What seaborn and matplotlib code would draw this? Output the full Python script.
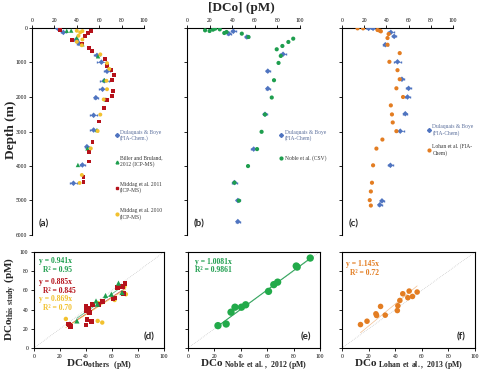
import numpy as np
import seaborn as sns
import matplotlib.pyplot as plt
from matplotlib.lines import Line2D

sns.set_style("white")
plt.rcParams['font.family'] = ['Liberation Serif', 'DejaVu Serif']
plt.rcParams['mathtext.fontset'] = 'custom'
plt.rcParams['mathtext.rm'] = 'Liberation Serif'
plt.rcParams['mathtext.bf'] = 'Liberation Serif:bold'

BLUE = '#4f74c0'
GREEN = '#1e9e4e'
RED = '#b5121b'
YELLOW = '#f2c12e'
ORANGE = '#e37d22'

# ---- depth profiles, panel (a)
a_blue_co = [23, 28, 39, 42, 58, 62, 67, 64.5, 63, 57, 55, 55, 49, 45, 37]
a_blue_depth = [10, 127, 353, 450, 794, 990, 1255, 1530, 1775, 2020, 2530, 2957, 3440, 3970, 4500]
a_blue_err = [2, 2, 2, 2, 3, 4, 3, 4, 3, 2, 3, 3, 2, 2, 3]
a_biller_co = [31, 35, 40, 45, 59, 64.5, 66, 58, 49.5, 41]
a_biller_depth = [80, 75, 280, 470, 820, 1510, 2070, 2957, 3490, 3970]
a_m11_co = [25, 50, 52.5, 47.5, 36, 44.5, 50.5, 53.5, 65.5, 66.6, 71, 73, 71.5, 72,
            71.5, 67, 64, 60, 54, 50.5, 50.5, 46, 46]
a_m11_depth = [60, 137, 90, 225, 353, 450, 580, 676, 890, 1088, 1206, 1353, 1510, 1823,
               1970, 2098, 2314, 2710, 3295, 3600, 3870, 4310, 4460]
a_m10_co = [40, 43, 45, 41.5, 45, 40, 44.5, 61, 67, 69, 66.5, 67, 64, 61, 58.6, 52.5, 44.5, 42.5]
a_m10_depth = [80, 127, 90, 225, 333, 400, 500, 765, 1020, 1186, 1530, 1775, 2070, 2510,
               2986, 3490, 4260, 4490]

# ---- panel (b)
b_blue_co = [41, 37, 53, 85, 71.5, 71.5, 69, 59, 42, 45, 45]
b_blue_depth = [96, 164, 260, 760, 1250, 1755, 2500, 3510, 4480, 5000, 5610]
b_blue_err = [2, 2, 2, 3, 2, 2, 2, 2, 2, 2, 2]
b_noble_co = [16, 20, 23, 25, 29, 33, 35, 48.5, 54.4, 94, 89.7, 84.4, 79.4, 83, 81, 77, 75,
              69, 66, 62, 54, 42, 46]
b_noble_depth = [68, 87, 48, 19, 39, 145, 116, 164, 260, 309, 405, 521, 617, 810, 1013, 1514,
                 2015, 2507, 3009, 3510, 4002, 4484, 5005]

# ---- panel (c)
c_blue_co = [24, 28, 44, 47, 39, 50, 54, 60, 59, 57, 52.5, 43.6, 36, 34]
c_blue_depth = [10, 10, 126, 243, 485, 980, 1485, 1750, 2000, 2485, 2990, 3980, 5010, 5126]
c_blue_err = [2, 2, 3, 2, 2, 3, 2, 2, 2, 2, 3, 2, 2, 2]
c_lohan_co = [14, 19, 32, 34, 35, 42, 41, 41, 52, 42.7, 50, 52, 49, 55, 44, 45, 45.7, 49,
              36.4, 31, 28, 27, 26, 25, 26]
c_lohan_depth = [10, 10, 58, 78, 97, 175, 291, 485, 728, 980, 1223, 1485, 1748, 2000, 2243,
                 2505, 2738, 2990, 3233, 3495, 3980, 4485, 4738, 4990, 5146]

# ---- panel (d) comparisons
d_biller_x = [33, 47.7, 48.7, 55, 59.5, 65, 67.7]
d_biller_y = [28.2, 49, 45.6, 54.7, 56, 67.6, 57.8]
d_m11_x = [26.5, 28, 27.5, 40, 40, 42, 43, 40.8, 40, 44.5, 45.2, 50, 53, 60.8, 62, 64.5, 68, 70, 69]
d_m11_y = [25, 22.3, 24, 43, 38.7, 40.8, 37, 29.3, 24, 27.5, 45, 45.6, 48.4, 51, 52, 63, 64, 67.6, 56.4]
d_m10_x = [24.5, 49, 52.5, 49.5, 60.8, 69.5, 70.7, 62]
d_m10_y = [30.3, 28.2, 26.5, 46.7, 52, 64, 56, 50]

# ---- panel (e)
e_noble_x = [22.7, 28.9, 32.6, 35.6, 40.5, 43.7, 61, 65, 67.9, 82, 82.7, 92.6]
e_this_y = [23.3, 25, 37.3, 42.5, 42.5, 45, 59, 66, 68.6, 85.4, 84.3, 93.7]

# ---- panel (f)
f_lohan_x = [13.9, 18.8, 25.5, 26, 29, 32.5, 41.6, 42, 43.5, 45.7, 49.5, 50.5, 53, 56.5]
f_this_y = [24.4, 27.9, 35.6, 33.9, 43.3, 34.2, 39, 44, 49.5, 56.5, 52.4, 59.3, 53.7, 58.3]

slopes_d = {'green': 0.941, 'red': 0.885, 'yellow': 0.869}
slope_e = 1.0081
slope_f = 1.145

fig = plt.figure(figsize=(4.82, 3.74), dpi=100)

W, H = 482, 374
def box(x0, y0, x1, y1):
    return [x0 / W, 1 - y1 / H, (x1 - x0) / W, (y1 - y0) / H]

ax_a = fig.add_axes(box(32, 28, 144, 235))
ax_b = fig.add_axes(box(187, 28, 300, 235))
ax_c = fig.add_axes(box(342, 28, 453, 235))
ax_d = fig.add_axes(box(34, 252, 164, 348))
ax_e = fig.add_axes(box(188, 252, 320, 348))
ax_f = fig.add_axes(box(342, 252, 475, 348))


def profile_style(ax, show_labels):
    ax.set_xlim(0, 100)
    ax.set_ylim(6000, 0)
    ax.xaxis.tick_top()
    ax.set_xticks(range(0, 101, 20))
    ax.set_yticks(range(0, 6001, 1000))
    ax.tick_params(axis='both', labelsize=4, length=2, width=0.6, pad=1.5, colors='black')
    ax.tick_params(axis='x', top=True, bottom=False)
    ax.tick_params(axis='y', left=True)
    if not show_labels:
        ax.set_yticklabels([])
    for s in ['right', 'bottom']:
        ax.spines[s].set_visible(False)
    for s in ['left', 'top']:
        ax.spines[s].set_linewidth(0.8)
        ax.spines[s].set_color('black')
    ax.set_xlabel('')
    ax.set_ylabel('')


def blue_profile(ax, co, depth, err):
    ax.errorbar(co, depth, xerr=err, fmt='none', ecolor=BLUE, elinewidth=0.5, capsize=0.8, zorder=2)
    sns.scatterplot(x=co, y=depth, ax=ax, marker='D', s=8, color=BLUE, edgecolor='none', zorder=3)


blue_profile(ax_a, a_blue_co, a_blue_depth, a_blue_err)
sns.scatterplot(x=a_biller_co, y=a_biller_depth, ax=ax_a, marker='^', s=10, color=GREEN, edgecolor='none', zorder=3)
sns.scatterplot(x=a_m11_co, y=a_m11_depth, ax=ax_a, marker='s', s=8, color=RED, edgecolor='none', zorder=3)
sns.scatterplot(x=a_m10_co, y=a_m10_depth, ax=ax_a, marker='o', s=8, color=YELLOW, edgecolor='none', zorder=3)
profile_style(ax_a, True)

blue_profile(ax_b, b_blue_co, b_blue_depth, b_blue_err)
sns.scatterplot(x=b_noble_co, y=b_noble_depth, ax=ax_b, marker='o', s=9, color=GREEN, edgecolor='none', zorder=3)
profile_style(ax_b, False)

blue_profile(ax_c, c_blue_co, c_blue_depth, c_blue_err)
sns.scatterplot(x=c_lohan_co, y=c_lohan_depth, ax=ax_c, marker='o', s=9, color=ORANGE, edgecolor='none', zorder=3)
profile_style(ax_c, False)


def legend(ax, entries, anchor, spacing):
    handles = [Line2D([], [], linestyle='none', marker=m, color=c, markersize=2) for m, c, _ in entries]
    labels = [t for _, _, t in entries]
    colors = ['#5b6f9c'] + ['#333333'] * (len(entries) - 1)
    ax.legend(handles, labels, loc='upper left', bbox_to_anchor=anchor, frameon=False,
              fontsize=4, labelspacing=spacing, handlelength=0.6, handletextpad=0.3,
              labelcolor=colors, borderaxespad=0)


legend(ax_a, [('D', BLUE, 'Dulaquais & Boye\n(FIA-Chem.)'),
              ('^', GREEN, 'Biller and Bruland,\n2012 (ICP-MS)'),
              ('s', RED, 'Middag et al. 2011\n(ICP-MS)'),
              ('o', YELLOW, 'Middag et al. 2010\n(ICP-MS)')], (0.72, 0.52), 2.6)
legend(ax_b, [('D', BLUE, 'Dulaquais & Boye\n(FIA-Chem)'),
              ('o', GREEN, 'Noble et al. (CSV)')], (0.8, 0.52), 2.6)
legend(ax_c, [('D', BLUE, 'Dulaquais & Boye\n(FIA-Chem)'),
              ('o', ORANGE, 'Lohan et al. (FIA-\nChem)')], (0.75, 0.545), 1.3)

for ax, lab in [(ax_a, '(a)'), (ax_b, '(b)'), (ax_c, '(c)')]:
    ax.text(0.06, 0.055, lab, transform=ax.transAxes, fontsize=7, fontweight='bold',
            family='Lato', ha='left', va='center')


# ---- scatter comparisons
def compare_style(ax, show_labels):
    ax.set_xlim(0, 100)
    ax.set_ylim(0, 100)
    ax.set_xticks(range(0, 101, 20))
    ax.set_yticks(range(0, 101, 20))
    ax.tick_params(axis='both', labelsize=4, length=2, width=0.6, pad=2, colors='black',
                   bottom=True, left=True)
    if not show_labels:
        ax.set_yticklabels([])
    for s in ax.spines.values():
        s.set_linewidth(0.8)
        s.set_color('black')
    ax.set_ylabel('')
    ax.plot([0, 100], [0, 100], color='#bbbbbb', lw=0.5, ls=':', zorder=1)


def fit_line(ax, xs, slope, color, lw=0.6, alpha=0.7):
    xr = np.array([min(xs), max(xs)])
    ax.plot(xr, slope * xr, color=color, lw=lw, alpha=alpha, zorder=2)


fit_line(ax_d, d_biller_x, slopes_d['green'], GREEN)
fit_line(ax_d, d_m11_x, slopes_d['red'], RED)
fit_line(ax_d, d_m10_x, slopes_d['yellow'], YELLOW)
sns.scatterplot(x=d_m10_x, y=d_m10_y, ax=ax_d, marker='o', s=10, color=YELLOW, edgecolor='none', zorder=3)
sns.scatterplot(x=d_m11_x, y=d_m11_y, ax=ax_d, marker='s', s=12, color=RED, edgecolor='none', zorder=3)
sns.scatterplot(x=d_biller_x, y=d_biller_y, ax=ax_d, marker='^', s=14, color=GREEN, edgecolor='none', zorder=4)
compare_style(ax_d, True)

fit_line(ax_e, e_noble_x, slope_e, GREEN, lw=0.8, alpha=0.9)
sns.scatterplot(x=e_noble_x, y=e_this_y, ax=ax_e, marker='o', s=28, color='#22aa4a', edgecolor='none', zorder=3)
compare_style(ax_e, False)

fit_line(ax_f, f_lohan_x, slope_f, ORANGE, lw=0.5, alpha=0.5)
sns.scatterplot(x=f_lohan_x, y=f_this_y, ax=ax_f, marker='o', s=16, color=ORANGE, edgecolor='none', zorder=3)
compare_style(ax_f, False)

eq_kw = dict(fontsize=5.5, fontweight='bold', ha='left', va='center')
ax_d.text(0.04, 0.905, 'y = 0.941x', color=GREEN, transform=ax_d.transAxes, **eq_kw)
ax_d.text(0.07, 0.81, 'R² = 0.95', color=GREEN, transform=ax_d.transAxes, **eq_kw)
ax_d.text(0.04, 0.69, 'y = 0.885x', color=RED, transform=ax_d.transAxes, **eq_kw)
ax_d.text(0.07, 0.595, 'R² = 0.845', color=RED, transform=ax_d.transAxes, **eq_kw)
ax_d.text(0.04, 0.51, 'y = 0.869x', color=YELLOW, transform=ax_d.transAxes, **eq_kw)
ax_d.text(0.07, 0.42, 'R² = 0.70', color=YELLOW, transform=ax_d.transAxes, **eq_kw)
ax_e.text(0.05, 0.9, 'y = 1.0081x', color=GREEN, transform=ax_e.transAxes, **eq_kw)
ax_e.text(0.05, 0.81, 'R² = 0.9861', color=GREEN, transform=ax_e.transAxes, **eq_kw)
ax_f.text(0.03, 0.875, 'y = 1.145x', color=ORANGE, transform=ax_f.transAxes, **eq_kw)
ax_f.text(0.06, 0.78, 'R² = 0.72', color=ORANGE, transform=ax_f.transAxes, **eq_kw)

for ax, lab in [(ax_d, '(d)'), (ax_e, '(e)'), (ax_f, '(f)')]:
    ax.text(0.93, 0.12, lab, transform=ax.transAxes, fontsize=7, fontweight='bold',
            family='Lato', ha='right', va='center')

ax_d.set_xlabel(r'$\mathbf{DCo}_{\mathbf{others\ \ (pM)}}$', fontsize=8)
ax_e.set_xlabel(r'$\mathbf{DCo}_{\mathbf{\ Noble\ et\ al.,\ 2012\ (pM)}}$', fontsize=8)
ax_f.set_xlabel(r'$\mathbf{DCo}_{\mathbf{\ Lohan\ et\ al.,\ 2013\ (pM)}}$', fontsize=8)
for ax in (ax_d, ax_e, ax_f):
    ax.xaxis.set_label_coords(0.5, -0.095)

fig.text(0.5, 0.978, '[DCo] (pM)', fontsize=9.5, fontweight='bold', ha='center', va='center')
fig.text(0.022, 0.652, 'Depth (m)', fontsize=9.5, fontweight='bold', rotation=90, ha='center', va='center')
fig.text(0.022, 0.2, r'$\mathbf{DCo}_{\mathbf{this\ study}}\ \mathbf{(pM)}$', fontsize=8,
         rotation=90, ha='center', va='center')

fig.savefig('out.png', dpi=100)
